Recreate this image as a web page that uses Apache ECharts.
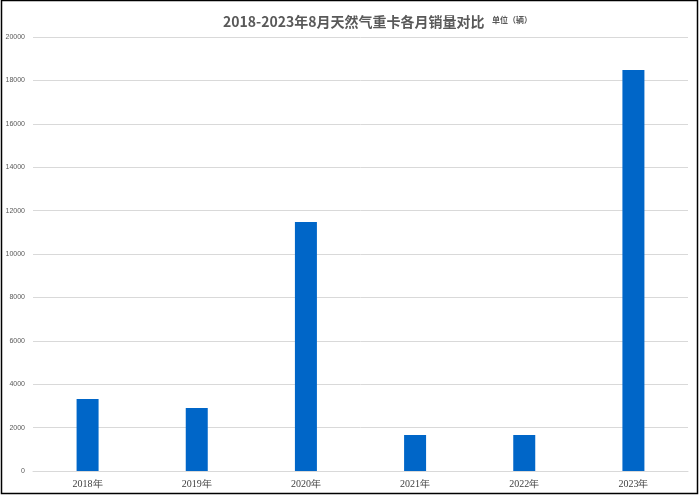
<!DOCTYPE html>
<html><head><meta charset="utf-8">
<script src="https://cdn.jsdelivr.net/npm/echarts@6/dist/echarts.min.js"></script>
<style>html,body{margin:0;padding:0;background:#fff}#c{width:700px;height:498px}</style>
</head><body><div id="c"></div>
<script>
const categories = ['2018年','2019年','2020年','2021年','2022年','2023年'];
const sales = [3320, 2900, 11480, 1660, 1660, 18480];
const yTicks = [0,2000,4000,6000,8000,10000,12000,14000,16000,18000,20000];

const chart = echarts.init(document.getElementById('c'));
chart.setOption({
  animation:false,
  backgroundColor:'#fff',
  title:{
    text:'2018-2023年8月天然气重卡各月销量对比',
    left:218, top:10,
    textStyle:{fontFamily:'Noto Sans CJK SC', fontWeight:'bold', fontSize:14, color:'#595959'}
  },
  graphic:[
    {type:'text', left:492, top:16, style:{text:'单位（辆）', font:'bold 8px "Noto Sans CJK SC"', fill:'#595959'}},
    {type:'rect', shape:{x:1.5,y:0.5,width:696,height:493}, style:{fill:'none', stroke:'#000', lineWidth:1.5}}
  ],
  grid:{left:33, right:12, top:37, bottom:27},
  xAxis:{
    type:'category', data:categories,
    axisLine:{lineStyle:{color:'#d9d9d9'}},
    axisTick:{show:false},
    axisLabel:{color:'#404040', fontSize:10, fontFamily:'Liberation Serif', margin:8}
  },
  yAxis:{
    type:'value', min:yTicks[0], max:yTicks[yTicks.length-1], interval:2000,
    axisLine:{show:false}, axisTick:{show:false},
    splitLine:{lineStyle:{color:'#d9d9d9'}},
    axisLabel:{color:'#595959', fontSize:7, fontFamily:'Liberation Sans', margin:8, formatter:v=>String(v)}
  },
  series:[{
    type:'bar', data:sales, barWidth:22,
    itemStyle:{color:'#0066c8'}
  }]
});
</script></body></html>
